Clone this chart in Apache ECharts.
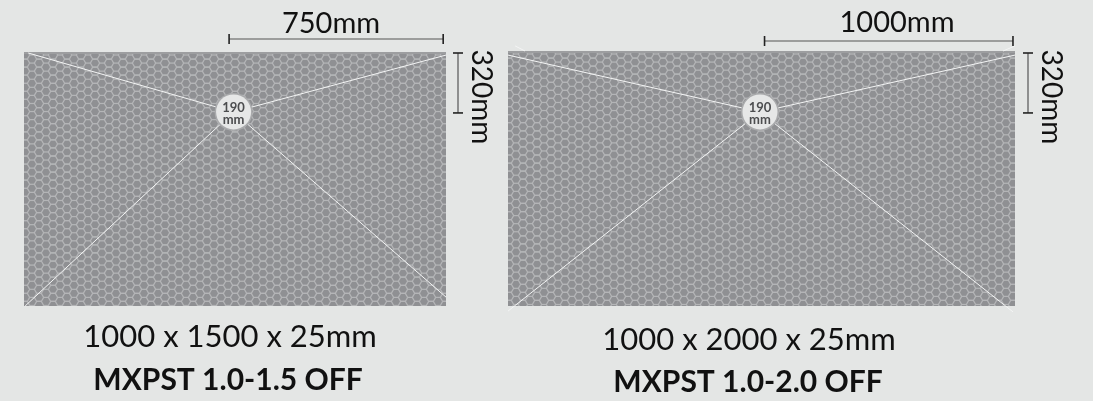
<!DOCTYPE html>
<html><head><meta charset="utf-8">
<style>html,body{margin:0;padding:0;background:#e4e6e5}#c{width:1093px;height:401px}</style>
<script src="https://cdn.jsdelivr.net/npm/echarts@6/dist/echarts.min.js"></script>
</head><body><div id="c"></div>
<script>
// panel sizes in mm
const panelWidths = [1500, 2000];
const panelHeights = [1000, 1000];
// hub position (mm from the top-left of each panel)
const hubX = [745, 994];
const hubY = [236, 239];
// horizontal dimension: start / end (mm along the panel) and label
const dimStart = [729, 1012];
const dimEnd = [1490, 1992];
const dimLabels = ['750mm', '1000mm'];
const sideLabels = ['320mm', '320mm'];
const hubLabel = ['190', 'mm'];
const sizeLabels = ['1000 x 1500 x 25mm', '1000 x 2000 x 25mm'];
const modelLabels = ['MXPST 1.0-1.5 OFF', 'MXPST 1.0-2.0 OFF'];
// spoke ends (mm): top-left, top-right, bottom-left, bottom-right
const spokeEndX = [[15, 1500, 4, 1500], [0, 2000, 0, 1992]];
const spokeEndY = [[4, 12, 1000, 965], [16, 16, 1020, 1023]];
// short strokes poking out above the second panel's top corners (mm): x1, y1, x2, y2
const cornerStrokes = [[], [[28, -20, 67, 0], [1953, 0, 2000, -20]]];

const frames = [
  {left: 24, top: 52, width: 422, height: 254},
  {left: 508, top: 51, width: 507, height: 255}
];
const BG = '#e4e6e5', FILL = '#8f9093', NET = '#b4b5b7', DARK = '#222';
const HEX = {r: 4.67, dx: 7, dy: 8.08};

function honeycomb(params, api) {
  const a = api.coord([0, 0]), b = api.coord([api.value(0), api.value(1)]);
  const kids = [{type: 'rect', shape: {x: a[0], y: a[1], width: b[0]-a[0], height: b[1]-a[1]}, style: {fill: FILL}}];
  const r = HEX.r, h = r * Math.sqrt(3) / 2;
  const net = {fill: 'none', stroke: NET, lineWidth: 1.25};
  // every other column is outlined; a short link joins it to the next, which closes the cells between them
  for (let x = a[0] + 1 - 2 * HEX.dx; x < b[0] + r; x += 2 * HEX.dx) {
    for (let y = a[1] + 3 - HEX.dy; y < b[1] + r; y += HEX.dy) {
      kids.push({type: 'polygon', silent: true, style: net, shape: {points: [
        [x-r,y],[x-r/2,y-h],[x+r/2,y-h],[x+r,y],[x+r/2,y+h],[x-r/2,y+h]
      ]}});
      kids.push({type: 'line', silent: true, style: net, shape: {x1: x+r, y1: y, x2: x+2*HEX.dx-r, y2: y}});
    }
  }
  kids.push({type: 'rect', shape: {x: a[0], y: a[1], width: b[0]-a[0], height: 2}, style: {fill: '#9d9ea0'}});
  return {type: 'group', children: kids};
}

function overlay(i) {
  return function (params, api) {
    const hub = api.coord([hubX[i], hubY[i]]);
    const kids = [];
    const white = {stroke: '#f4f5f5', lineWidth: 1};
    spokeEndX[i].forEach((x, k) => {
      const e = api.coord([x, spokeEndY[i][k]]);
      kids.push({type: 'line', shape: {x1: e[0], y1: e[1], x2: hub[0], y2: hub[1]}, style: white});
    });
    cornerStrokes[i].forEach(s => {
      const m = api.coord([s[0], s[1]]), n = api.coord([s[2], s[3]]);
      kids.push({type: 'line', shape: {x1: m[0], y1: m[1], x2: n[0], y2: n[1]}, style: white});
    });
    kids.push({type: 'circle', shape: {cx: hub[0], cy: hub[1], r: 19}, style: {fill: '#a9aaac'}});
    kids.push({type: 'circle', shape: {cx: hub[0], cy: hub[1], r: 17.5}, style: {fill: '#e6e7e7'}});
    kids.push({type: 'text', x: hub[0], y: hub[1]-4, style: {text: hubLabel[0], font: 'bold 13px Lato', fill: '#4c4d4f', align: 'center', verticalAlign: 'middle'}});
    kids.push({type: 'text', x: hub[0], y: hub[1]+8, style: {text: hubLabel[1], font: 'bold 13px Lato', fill: '#4c4d4f', align: 'center', verticalAlign: 'middle'}});

    // horizontal dimension above the panel
    const p = api.coord([dimStart[i], 0]), q = api.coord([dimEnd[i], 0]);
    const dy = p[1] - (i ? 10 : 13);
    kids.push({type: 'line', shape: {x1: p[0], y1: dy, x2: q[0], y2: dy}, style: {stroke: '#555', lineWidth: 1.2}});
    [p[0], q[0]].forEach(x => kids.push({type: 'line', shape: {x1: x, y1: dy-5, x2: x, y2: dy+5}, style: {stroke: DARK, lineWidth: 1.6}}));

    // vertical dimension beside the panel
    const t = api.coord([panelWidths[i], 0])[0] + (i ? 13 : 12);
    const y1 = api.coord([0, 0])[1] + (i ? 2 : 1), y2 = hub[1] + 1;
    kids.push({type: 'line', shape: {x1: t, y1: y1, x2: t, y2: y2}, style: {stroke: '#555', lineWidth: 1.2}});
    [y1, y2].forEach(y => kids.push({type: 'line', shape: {x1: t-5, y1: y, x2: t+5, y2: y}, style: {stroke: DARK, lineWidth: 1.6}}));
    return {type: 'group', children: kids};
  };
}

function txt(x, y, text, size, weight, rotation) {
  return {type: 'text', x, y, rotation: rotation || 0, silent: true,
    style: {text, font: (weight || 400) + ' ' + size + 'px Lato', fill: '#111', align: 'center', verticalAlign: 'middle'}};
}

const chart = echarts.init(document.getElementById('c'), null, {renderer: 'canvas'});
chart.setOption({
  animation: false,
  backgroundColor: BG,
  grid: frames.map(f => Object.assign({}, f, {containLabel: false})),
  xAxis: panelWidths.map((w, i) => ({type: 'value', gridIndex: i, min: 0, max: w, show: false})),
  yAxis: panelHeights.map((h, i) => ({type: 'value', gridIndex: i, min: 0, max: h, inverse: true, show: false})),
  series: [0, 1].flatMap(i => [
    {type: 'custom', xAxisIndex: i, yAxisIndex: i, clip: true, silent: true, z: 1,
     data: [[panelWidths[i], panelHeights[i]]], renderItem: honeycomb},
    {type: 'custom', xAxisIndex: i, yAxisIndex: i, clip: false, silent: true, z: 2,
     data: [[panelWidths[i], panelHeights[i]]], renderItem: overlay(i)}
  ]),
  graphic: {elements: [
    txt(331, 24, dimLabels[0], 29),
    txt(897, 23, dimLabels[1], 29),
    txt(481, 97, sideLabels[0], 28, 400, -Math.PI / 2),
    txt(1051, 97, sideLabels[1], 28, 400, -Math.PI / 2),
    txt(230, 337, sizeLabels[0], 31),
    txt(749, 340, sizeLabels[1], 31),
    txt(228, 380, modelLabels[0], 30, 700),
    txt(748, 382, modelLabels[1], 30, 700)
  ]}
});
</script></body></html>
